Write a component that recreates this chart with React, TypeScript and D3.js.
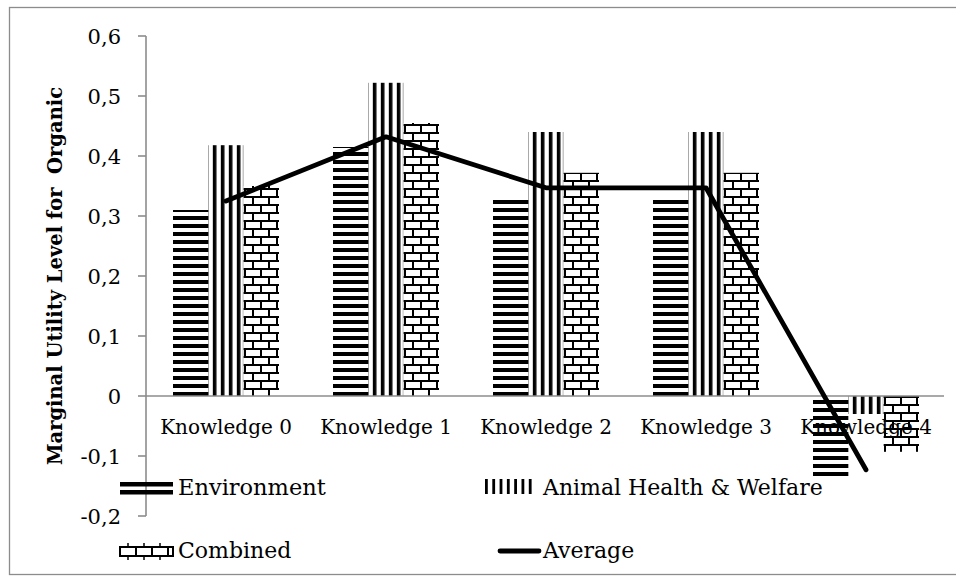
import React from "react";
import * as d3 from "d3";

const categories = ["Knowledge 0", "Knowledge 1", "Knowledge 2", "Knowledge 3", "Knowledge 4"];
const seriesNames = ["Environment", "Animal Health & Welfare", "Combined"];
const environment = [0.31, 0.415, 0.333, 0.333, -0.135];
const animalWelfare = [0.418, 0.522, 0.44, 0.44, -0.03];
const combined = [0.35, 0.455, 0.372, 0.372, -0.093];
const average = [0.325, 0.432, 0.347, 0.347, -0.123];
const yTicks = [-0.2, -0.1, 0, 0.1, 0.2, 0.3, 0.4, 0.5, 0.6];

const W = 956;
const H = 579;
const FONT = "'DejaVu Serif', 'Liberation Serif', serif";
const AXIS_GREY = "#8c8c8c";

// decimal comma, plain hyphen for negatives
const fmt = (v: number) => (v === 0 ? "0" : v.toFixed(1).replace(".", ","));

export default function App() {
  const x0 = d3.scaleBand<string>().domain(categories).range([146, 946]).padding(0);
  const x1 = d3.scaleBand<string>().domain(seriesNames).range([27, 133]).padding(0);
  const y = d3.scaleLinear().domain([-0.2, 0.6]).range([516, 36]);

  const seriesValues = [environment, animalWelfare, combined];
  const fills = ["url(#hstripes)", "url(#vstripes)", "url(#bricks)"];

  const line = d3
    .line<number>()
    .x((_, i) => (x0(categories[i]) as number) + x0.bandwidth() / 2)
    .y((d) => y(d));

  const bw = x1.bandwidth();
  const animalStart = (x0(categories[0]) as number) + (x1(seriesNames[1]) as number);
  const stripeOffset = (animalStart + 2.5) % 8;

  return (
    <svg
      width={W}
      height={H}
      style={{ position: "absolute", left: 0, top: 0, background: "#fff" }}
      fontFamily={FONT}
    >
      <defs>
        <pattern id="hstripes" patternUnits="userSpaceOnUse" width={8} height={8} y={y(0) % 8}>
          <rect x={0} y={4} width={8} height={4} fill="#000" />
        </pattern>
        <pattern id="vstripes" patternUnits="userSpaceOnUse" width={8} height={8} x={stripeOffset}>
          <rect x={0} y={0} width={3.6} height={8} fill="#000" />
        </pattern>
        <pattern id="bricks" patternUnits="userSpaceOnUse" width={16} height={16} x={2} y={y(0) % 16}>
          <rect width={16} height={16} fill="#fff" />
          <rect x={0} y={0} width={16} height={2} fill="#000" />
          <rect x={0} y={8} width={16} height={2} fill="#000" />
          <rect x={0} y={0} width={2} height={8} fill="#000" />
          <rect x={8} y={8} width={2} height={8} fill="#000" />
        </pattern>
      </defs>

      <rect x={0} y={0} width={W} height={H} fill="#fff" />
      <rect x={9.5} y={7.5} width={W + 10} height={567} fill="none" stroke={AXIS_GREY} strokeWidth={1.3} />

      {/* bars */}
      {categories.map((c, i) => (
        <g key={c} transform={`translate(${x0(c)},0)`}>
          {seriesNames.map((s, k) => {
            const v = seriesValues[k][i];
            const top = y(Math.max(0, v));
            const h = Math.abs(y(v) - y(0));
            const bx = x1(s) as number;
            return (
              <g key={s}>
                <rect x={bx} y={top} width={bw} height={h} fill={fills[k]} />
                {k === 1 && (
                  <line x1={bx + bw - 0.5} x2={bx + bw - 0.5} y1={top} y2={top + h} stroke="#aaa" strokeWidth={1} />
                )}
              </g>
            );
          })}
        </g>
      ))}

      {/* axes */}
      <line x1={146} x2={944} y1={y(0)} y2={y(0)} stroke={AXIS_GREY} strokeWidth={1.6} />
      <line x1={146} x2={146} y1={y(0.6)} y2={y(-0.2)} stroke={AXIS_GREY} strokeWidth={1.6} />
      {yTicks.map((t) => (
        <g key={t}>
          <line x1={138} x2={146} y1={y(t)} y2={y(t)} stroke={AXIS_GREY} strokeWidth={1.6} />
          <text x={121} y={y(t)} dy="0.36em" textAnchor="end" fontSize={21} fill="#000">
            {fmt(t)}
          </text>
        </g>
      ))}

      {categories.map((c) => (
        <text
          key={c}
          x={(x0(c) as number) + x0.bandwidth() / 2}
          y={434}
          textAnchor="middle"
          fontSize={20}
          fill="#000"
        >
          {c}
        </text>
      ))}

      {/* average line */}
      <path d={line(average) as string} fill="none" stroke="#000" strokeWidth={4.8} strokeLinejoin="round" strokeLinecap="round" />

      {/* y title */}
      <text
        transform="translate(62,276) rotate(-90)"
        textAnchor="middle"
        fontSize={19.5}
        fontWeight="bold"
        fill="#000"
        style={{ whiteSpace: "pre" }}
      >
        {"Marginal Utility Level for  Organic"}
      </text>

      {/* legend */}
      <g>
        <rect x={120} y={482} width={53} height={4.5} fill="#000" />
        <rect x={120} y={490} width={53} height={4.5} fill="#000" />
        <text x={178} y={495} fontSize={22.5} fill="#000">{seriesNames[0]}</text>

        {d3.range(7).map((j) => (
          <rect key={j} x={485 + j * 7.3} y={479} width={2.8} height={15} fill="#000" />
        ))}
        <text x={543} y={495} fontSize={22} fill="#000">{seriesNames[1]}</text>

        <rect x={120} y={547} width={53} height={9} fill="#fff" stroke="#000" strokeWidth={2} />
        {[136, 152, 168].map((bx) => (
          <line key={bx} x1={bx} x2={bx} y1={547} y2={556} stroke="#000" strokeWidth={2} />
        ))}
        {[128, 144, 160].map((bx) => (
          <g key={bx}>
            <line x1={bx} x2={bx} y1={543} y2={547} stroke="#000" strokeWidth={1.5} />
            <line x1={bx} x2={bx} y1={556} y2={560} stroke="#000" strokeWidth={1.5} />
          </g>
        ))}
        <text x={178} y={558} fontSize={22} fill="#000">{seriesNames[2]}</text>

        <line x1={500} x2={539} y1={551} y2={551} stroke="#000" strokeWidth={4.8} strokeLinecap="round" />
        <text x={543} y={558} fontSize={22} fill="#000">Average</text>
      </g>
    </svg>
  );
}
